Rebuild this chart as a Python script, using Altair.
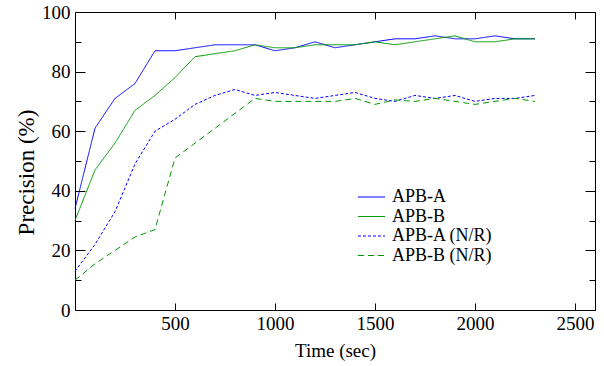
import altair as alt
import pandas as pd

times = [0, 100, 200, 300, 400, 500, 600, 700, 800, 900, 1000, 1100,
         1200, 1300, 1400, 1500, 1600, 1700, 1800, 1900, 2000, 2100, 2200, 2300]
apb_a = [34, 61, 71, 76, 87, 87, 88, 89, 89, 89, 87, 88,
         90, 88, 89, 90, 91, 91, 92, 91, 91, 92, 91, 91]
apb_b = [30, 47, 56, 67, 72, 78, 85, 86, 87, 89, 88, 88,
         89, 89, 89, 90, 89, 90, 91, 92, 90, 90, 91, 91]
apb_a_nr = [13, 22, 33, 49, 60, 64, 69, 72, 74, 72, 73, 72,
            71, 72, 73, 71, 70, 72, 71, 72, 70, 71, 71, 72]
apb_b_nr = [10, 15.5, 20, 24.5, 27, 51, 56, 61, 66, 71, 70, 70,
            70, 70, 71, 69, 70.5, 70, 71, 70, 69, 70, 71, 70]

series_names = ["APB-A", "APB-B", "APB-A (N/R)", "APB-B (N/R)"]
series_values = [apb_a, apb_b, apb_a_nr, apb_b_nr]
colors = ["#0000ff", "#009a00", "#0000ff", "#009a00"]
dashes = [[1, 0], [1, 0], [3, 2], [6, 4]]

x_ticks = [500, 1000, 1500, 2000, 2500]
y_major = [0, 20, 40, 60, 80, 100]
y_minor = [10, 30, 50, 70, 90]

rows = []
for name, vals in zip(series_names, series_values):
    for t, v in zip(times, vals):
        rows.append({"time": t, "value": v, "series": name})
df = pd.DataFrame(rows)

FONT = "Liberation Serif"
FS = 19
xscale = alt.Scale(domain=[0, 2600], nice=False)
yscale = alt.Scale(domain=[0, 100], nice=False)

common_axis = dict(domain=False, grid=False, tickColor="black", tickWidth=1,
                   labelColor="black", labelFont=FONT, labelFontSize=FS,
                   titleFont=FONT, titleColor="black",
                   titleFontWeight="normal")

legend = alt.Legend(title=None, orient="none", legendX=287.5, legendY=176,
                    symbolType="M-1.69,0H1.69", symbolSize=256,
                    symbolStrokeWidth=1, labelFont=FONT,
                    labelFontSize=18, labelColor="black",
                    labelOffset=11.5, rowPadding=1.5)

main = alt.Chart(df).mark_line(strokeWidth=1).encode(
    x=alt.X("time:Q", scale=xscale,
            axis=alt.Axis(orient="bottom", values=x_ticks, tickSize=7, offset=-7,
                          labelPadding=4, title="Time (sec)", titlePadding=8,
                          titleFontSize=19, format="d", **common_axis)),
    y=alt.Y("value:Q", scale=yscale,
            axis=alt.Axis(orient="left", values=y_major, tickSize=10, offset=-10,
                          labelPadding=5, title="Precision (%)", titlePadding=3,
                          titleFontSize=23, titleY=160, format="d", **common_axis)),
    color=alt.Color("series:N", scale=alt.Scale(domain=series_names, range=colors),
                    legend=legend),
    strokeDash=alt.StrokeDash("series:N",
                              scale=alt.Scale(domain=series_names, range=dashes),
                              legend=legend),
    detail="series:N",
)

ghost = alt.Chart(df).mark_line(opacity=0)

top_minor = ghost.encode(
    x=alt.X("time:Q", scale=xscale,
            axis=alt.Axis(orient="top", values=x_ticks, tickSize=7, offset=-7,
                          labels=False, title="", **common_axis)),
    y=alt.Y("value:Q", scale=yscale,
            axis=alt.Axis(orient="left", values=y_minor, tickSize=6, offset=-6,
                          labels=False, title="", **common_axis)),
)

right_major = ghost.encode(
    x=alt.X("time:Q", scale=xscale, axis=None),
    y=alt.Y("value:Q", scale=yscale,
            axis=alt.Axis(orient="right", values=y_major, tickSize=10, offset=-10,
                          labels=False, title="", **common_axis)),
)

right_minor = ghost.encode(
    x=alt.X("time:Q", scale=xscale, axis=None),
    y=alt.Y("value:Q", scale=yscale,
            axis=alt.Axis(orient="right", values=y_minor, tickSize=6, offset=-6,
                          labels=False, title="", **common_axis)),
)

chart = alt.layer(main, top_minor, right_major, right_minor).resolve_axis(
    x="independent", y="independent"
).properties(
    width=520, height=298,
    padding={"left": 75, "top": 12, "right": 9, "bottom": 56},
    autosize=alt.AutoSizeParams(type="none"),
    background="white",
).configure(font=FONT).configure_view(stroke="black", strokeWidth=1)

chart.save("out.html", embed_options={"renderer": "svg", "actions": False})
